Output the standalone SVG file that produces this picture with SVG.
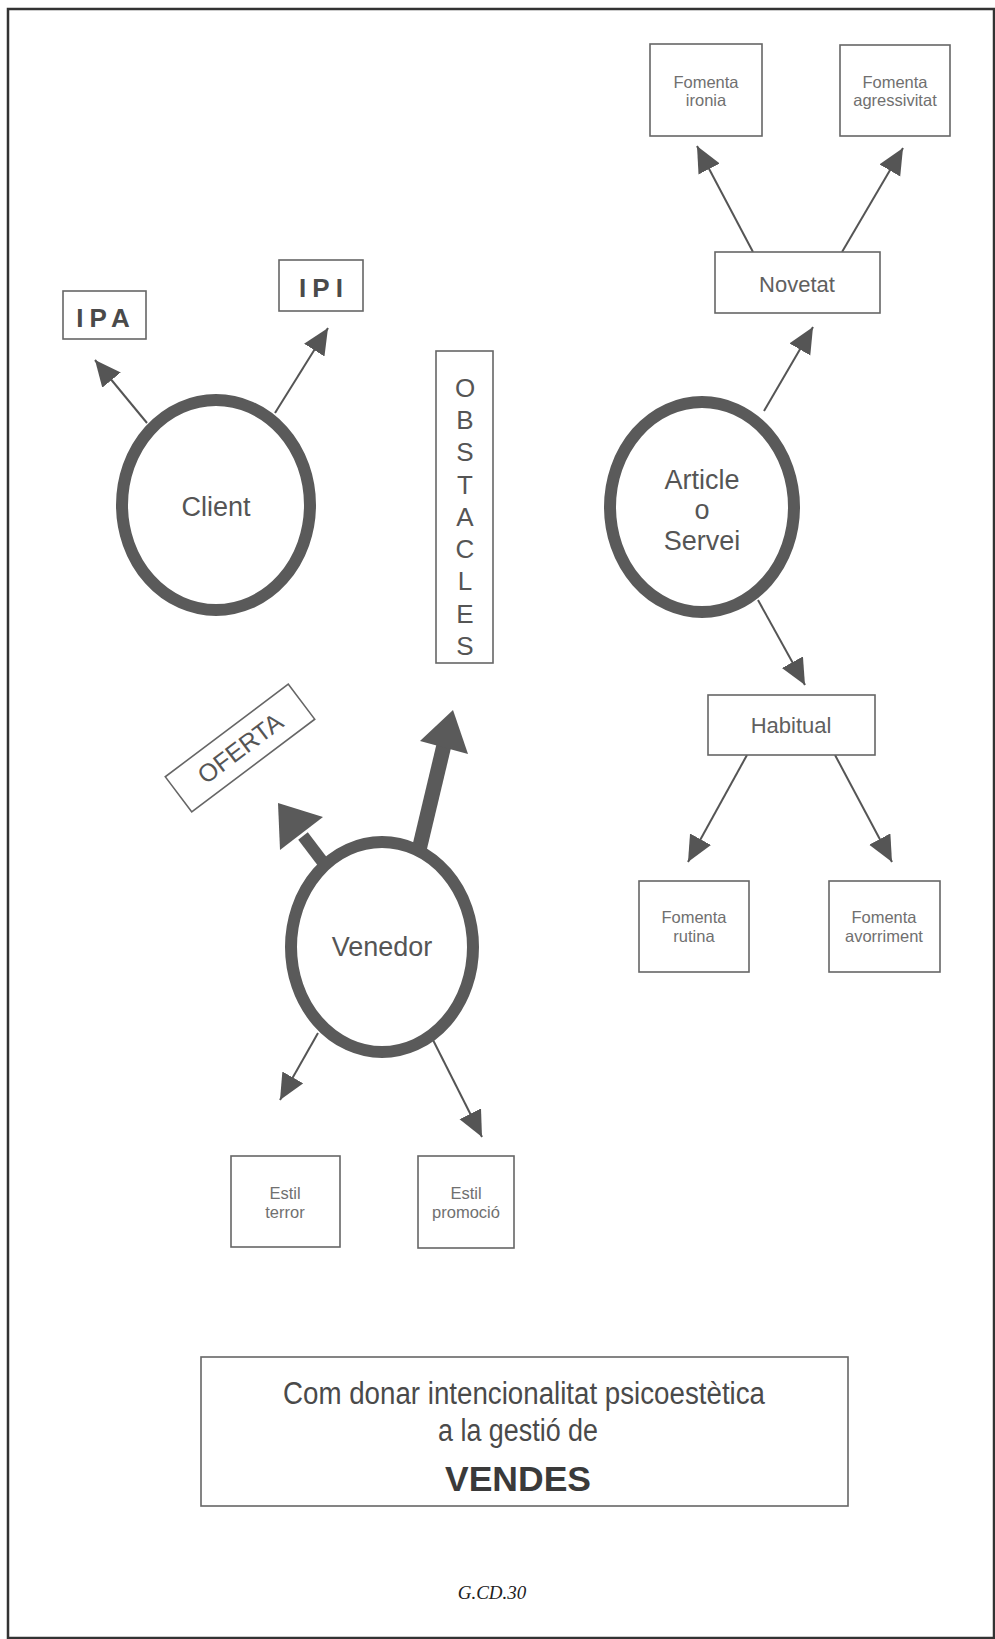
<svg xmlns="http://www.w3.org/2000/svg" width="995" height="1639" viewBox="0 0 995 1639">
<style>
.box{fill:#fff;stroke:#666;stroke-width:1.6}
.ring{fill:#fff;stroke:#5a5a5a;stroke-width:12}
.t{font-family:"Liberation Sans",Arial,sans-serif;text-anchor:middle}
.sm{font-size:16.5px;fill:#707070}
.md{font-size:22px;fill:#606060}
.lg{font-size:27px;fill:#555}
.thin{stroke:#555;stroke-width:2;fill:none}
.thick{stroke:#5a5a5a;fill:none}
.head{fill:#5a5a5a}
</style>
<defs>
<marker id="ah" markerUnits="userSpaceOnUse" markerWidth="28" markerHeight="26" refX="26" refY="12" orient="auto">
<path d="M0,0 L26,12 L0,24 z" fill="#555"/>
</marker>
</defs>
<rect width="995" height="1639" fill="#fff"/>
<rect x="8" y="9" width="986" height="1629" fill="none" stroke="#333" stroke-width="2.5"/>

<g id="connectors">
<line class="thin" x1="753" y1="252" x2="697" y2="146" marker-end="url(#ah)"/>
<line class="thin" x1="842" y1="252" x2="903" y2="148" marker-end="url(#ah)"/>
<line class="thin" x1="764" y1="411" x2="813" y2="327" marker-end="url(#ah)"/>
<line class="thin" x1="758" y1="600" x2="805" y2="685" marker-end="url(#ah)"/>
<line class="thin" x1="747" y1="755" x2="688" y2="862" marker-end="url(#ah)"/>
<line class="thin" x1="835" y1="755" x2="892" y2="862" marker-end="url(#ah)"/>
<line class="thin" x1="147" y1="423" x2="95" y2="360" marker-end="url(#ah)"/>
<line class="thin" x1="275" y1="413" x2="328" y2="328" marker-end="url(#ah)"/>
<line class="thin" x1="318" y1="1033" x2="280" y2="1100" marker-end="url(#ah)"/>
<line class="thin" x1="433" y1="1040" x2="482" y2="1137" marker-end="url(#ah)"/>
<line class="thick" x1="325" y1="865" x2="303" y2="836" stroke-width="12"/>
<polygon class="head" points="278,803 323,817 280,850"/>
<line class="thick" x1="419" y1="850" x2="444" y2="745" stroke-width="15"/>
<polygon class="head" points="453,710 468,754 420,741"/>
</g>

<g id="client">
<ellipse class="ring" cx="216" cy="505" rx="94" ry="105"/>
<text class="t lg" x="216" y="516" font-size="28">Client</text>
</g>
<g id="ipa">
<rect class="box" x="63" y="291" width="83" height="48"/>
<text class="t" x="106" y="327" font-size="26" font-weight="bold" fill="#4a4a4a" letter-spacing="6">IPA</text>
</g>
<g id="ipi">
<rect class="box" x="279" y="260" width="84" height="51"/>
<text class="t" x="324" y="297" font-size="26" font-weight="bold" fill="#4a4a4a" letter-spacing="6">IPI</text>
</g>

<g id="obstacles">
<rect class="box" x="436" y="351" width="57" height="312"/>
<text class="t" x="465" font-size="26" fill="#555">
<tspan x="465" y="397">O</tspan><tspan x="465" y="429">B</tspan><tspan x="465" y="461">S</tspan><tspan x="465" y="494">T</tspan><tspan x="465" y="526">A</tspan><tspan x="465" y="558">C</tspan><tspan x="465" y="590">L</tspan><tspan x="465" y="623">E</tspan><tspan x="465" y="655">S</tspan>
</text>
</g>

<g id="article">
<ellipse class="ring" cx="702" cy="507" rx="92" ry="105"/>
<text class="t lg" x="702" y="489">Article</text>
<text class="t lg" x="702" y="519">o</text>
<text class="t lg" x="702" y="550">Servei</text>
</g>

<g id="novetat">
<rect class="box" x="715" y="252" width="165" height="61"/>
<text class="t md" x="797" y="292">Novetat</text>
</g>
<g id="fomenta-ironia">
<rect class="box" x="650" y="44" width="112" height="92"/>
<text class="t sm" x="706" y="88">Fomenta</text>
<text class="t sm" x="706" y="106">ironia</text>
</g>
<g id="fomenta-agressivitat">
<rect class="box" x="840" y="45" width="110" height="91"/>
<text class="t sm" x="895" y="88">Fomenta</text>
<text class="t sm" x="895" y="106">agressivitat</text>
</g>

<g id="habitual">
<rect class="box" x="708" y="695" width="167" height="60"/>
<text class="t md" x="791" y="733">Habitual</text>
</g>
<g id="fomenta-rutina">
<rect class="box" x="639" y="881" width="110" height="91"/>
<text class="t sm" x="694" y="923">Fomenta</text>
<text class="t sm" x="694" y="942">rutina</text>
</g>
<g id="fomenta-avorriment">
<rect class="box" x="829" y="881" width="111" height="91"/>
<text class="t sm" x="884" y="923">Fomenta</text>
<text class="t sm" x="884" y="942">avorriment</text>
</g>

<g id="oferta" transform="translate(240,748) rotate(-37)">
<rect class="box" x="-77" y="-22" width="154" height="44"/>
<text class="t" x="0" y="9" font-size="25" fill="#555">OFERTA</text>
</g>

<g id="venedor">
<ellipse class="ring" cx="382" cy="947" rx="91" ry="105"/>
<text class="t lg" x="382" y="956">Venedor</text>
</g>

<g id="estil-terror">
<rect class="box" x="231" y="1156" width="109" height="91"/>
<text class="t sm" x="285" y="1199">Estil</text>
<text class="t sm" x="285" y="1218">terror</text>
</g>
<g id="estil-promocio">
<rect class="box" x="418" y="1156" width="96" height="92"/>
<text class="t sm" x="466" y="1199">Estil</text>
<text class="t sm" x="466" y="1218">promoció</text>
</g>

<g id="title">
<rect class="box" x="201" y="1357" width="647" height="149"/>
<text class="t" x="524" y="1404" font-size="31" fill="#4a4a4a" textLength="482" lengthAdjust="spacingAndGlyphs">Com donar intencionalitat psicoestètica</text>
<text class="t" x="518" y="1441" font-size="31" fill="#4a4a4a" textLength="160" lengthAdjust="spacingAndGlyphs">a la gestió de</text>
<text class="t" x="518" y="1491" font-size="35" font-weight="bold" fill="#3a3a3a" textLength="146" lengthAdjust="spacingAndGlyphs">VENDES</text>
</g>

<text class="t" x="492" y="1599" font-size="19" font-style="italic" fill="#222" style="font-family:'Liberation Serif',serif">G.CD.30</text>
</svg>
